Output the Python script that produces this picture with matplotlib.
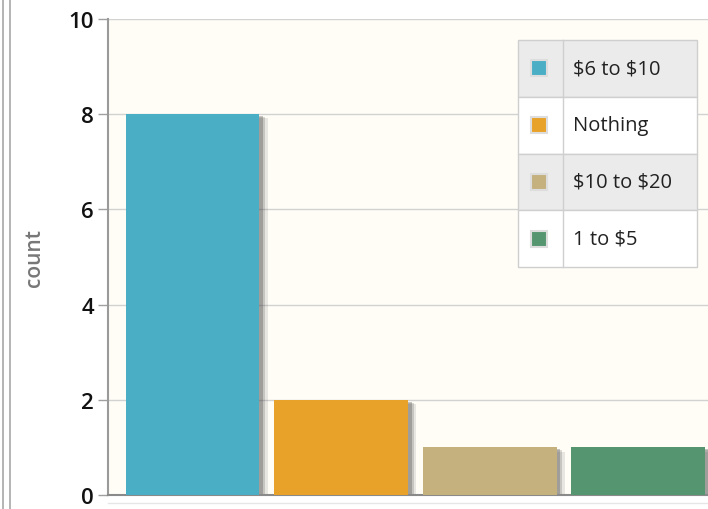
import matplotlib.pyplot as plt
from matplotlib.patches import Rectangle
from matplotlib.lines import Line2D

# spending buckets and how many people picked each
categories = ["$6 to $10", "Nothing", "$10 to $20", "1 to $5"]
counts = [8, 2, 1, 1]
colors = ["#4AAFC5", "#E8A22A", "#C4B17E", "#559670"]

W, H = 708, 510
fig = plt.figure(figsize=(W / 100, H / 100), dpi=100)
fig.patch.set_facecolor("white")

ax = fig.add_axes([108 / W, 14 / H, 1 - 108 / W, 476 / H])
ax.set_facecolor("#FFFDF6")

x = list(range(len(categories)))
width = 0.9

# soft drop shadow behind each bar
for off, a in [(0.055, 0.12), (0.04, 0.2), (0.025, 0.3)]:
    ax.bar([i + off for i in x], [c - off * 1.6 for c in counts], width=width,
           bottom=0, color="#444444", alpha=a, linewidth=0, zorder=2)
ax.bar(x, counts, width=width, color=colors, linewidth=0, zorder=3)

ax.set_xlim(-0.57, 3.47)
ax.set_ylim(0, 10)
ax.set_yticks([0, 2, 4, 6, 8, 10])
ax.set_xticks([])
ax.grid(axis="y", color="#D2D2D2", linewidth=1, zorder=1)
ax.set_axisbelow(True)

for side in ["top", "right"]:
    ax.spines[side].set_visible(False)
ax.spines["left"].set_color("#9A9A9A")
ax.spines["left"].set_linewidth(1.5)
ax.spines["bottom"].set_color("#8A8A8A")
ax.spines["bottom"].set_linewidth(1.5)
ax.tick_params(axis="y", length=7, width=1, color="#A0A0A0",
               labelsize=16, labelcolor="#111111", pad=3)
for lab in ax.get_yticklabels():
    lab.set_fontfamily("Open Sans")
    lab.set_fontweight("semibold")
ax.set_ylabel("count", fontsize=15, color="#777777", labelpad=17,
              fontfamily="Open Sans", fontweight="semibold")

# table style legend in the upper right
lx0, lx1, ldiv = 518, 697, 563
ly0, row_h = 41, 56.75
for i, (name, col) in enumerate(zip(categories, colors)):
    top = ly0 + i * row_h
    fill = "#EBEBEB" if i % 2 == 0 else "white"
    fig.add_artist(Rectangle((lx0 / W, 1 - (top + row_h) / H), (lx1 - lx0) / W,
                             row_h / H, facecolor=fill, edgecolor="#CFCFCF",
                             linewidth=1, transform=fig.transFigure, zorder=5))
    cy = top + row_h / 2
    fig.add_artist(Rectangle((531 / W, 1 - (cy + 8) / H), 16 / W, 16 / H,
                             facecolor=col, edgecolor="#DDDDDD", linewidth=1.5,
                             transform=fig.transFigure, zorder=6))
    fig.text(573 / W, 1 - cy / H, name, fontsize=14.5, color="#222222",
             va="center", ha="left", zorder=7, parse_math=False,
             fontfamily="Open Sans")
fig.add_artist(Line2D([ldiv / W, ldiv / W], [1 - ly0 / H, 1 - (ly0 + 4 * row_h) / H],
                      color="#CFCFCF", linewidth=1, transform=fig.transFigure, zorder=6))

# double frame line on the left edge
for px in (3, 10):
    fig.add_artist(Line2D([px / W, px / W], [0, 1], color="#A8A8A8",
                          linewidth=1.2, transform=fig.transFigure))
fig.add_artist(Line2D([108 / W, 1], [1 - 504 / H, 1 - 504 / H], color="#E6E6E6",
                      linewidth=1, transform=fig.transFigure))

fig.savefig("out.png", dpi=100)
